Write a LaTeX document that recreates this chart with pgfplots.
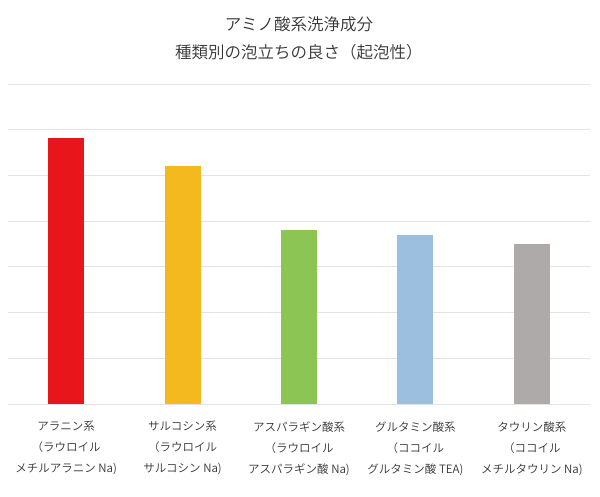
\documentclass[border=0pt]{standalone}
\usepackage{pgfplots}
\pgfplotsset{compat=1.18}
\usepackage{fontspec}
\setmainfont{Noto Sans CJK JP}[UprightFont={* DemiLight}]
\definecolor{gridc}{HTML}{E3E3E3}
\definecolor{txt}{HTML}{333333}
\definecolor{cred}{HTML}{E8161B}
\definecolor{cyel}{HTML}{F4B91E}
\definecolor{cgrn}{HTML}{8CC553}
\definecolor{cblu}{HTML}{9CBFE0}
\definecolor{cgry}{HTML}{AEAAAA}
\begin{document}
\begin{tikzpicture}
\path[use as bounding box] (-8bp,-93bp) rectangle (592bp,404bp);
\begin{axis}[
  at={(0,0)}, anchor=south west,
  scale only axis, width=582bp, height=320bp,
  ybar, bar width=0.31, bar shift=0pt,
  xmin=-0.5, xmax=4.5, ymin=0, ymax=7,
  ytick={0,1,...,7}, yticklabels={},
  xtick={0,1,2,3,4},
  xticklabels={
    {アラニン系\\（ラウロイル\\メチルアラニン Na)},
    {サルコシン系\\（ラウロイル\\サルコシン Na)},
    {アスパラギン酸系\\（ラウロイル\\アスパラギン酸 Na)},
    {グルタミン酸系\\（ココイル\\グルタミン酸 TEA)},
    {タウリン酸系\\（ココイル\\メチルタウリン Na)}},
  xticklabel style={align=center, text=txt, font={\fontsize{11.5bp}{21bp}\selectfont}, yshift=-14bp},
  major tick length=0pt,
  ymajorgrids, grid style={draw=gridc, line width=0.9bp},
  axis line style={draw=none},
  title={アミノ酸系洗浄成分\\種類別の泡立ちの良さ（起泡性）},
  title style={align=center, text=txt, font={\fontsize{16.5bp}{28bp}\selectfont}, at={(0.5,1)}, anchor=south, yshift=14bp},
]
\addplot[fill=cred, draw=none] coordinates {(0,5.82)};
\addplot[fill=cyel, draw=none] coordinates {(1,5.21)};
\addplot[fill=cgrn, draw=none] coordinates {(2,3.80)};
\addplot[fill=cblu, draw=none] coordinates {(3,3.69)};
\addplot[fill=cgry, draw=none] coordinates {(4,3.49)};
\end{axis}
\end{tikzpicture}
\end{document}
